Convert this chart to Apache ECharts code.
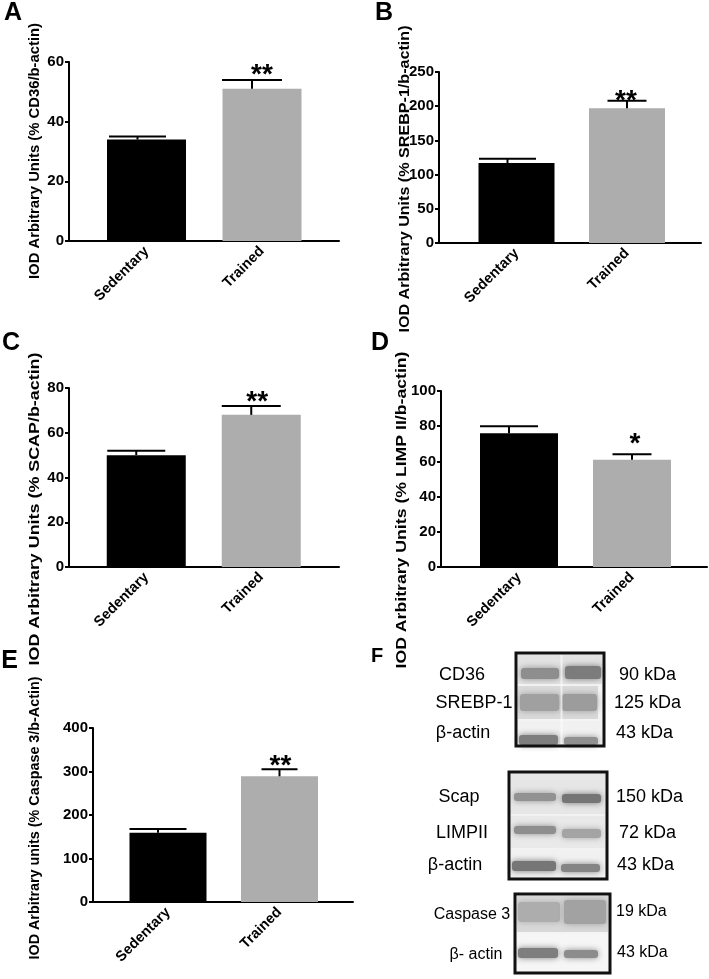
<!DOCTYPE html>
<html><head><meta charset="utf-8">
<script src="https://cdn.jsdelivr.net/npm/echarts@6/dist/echarts.min.js"></script>
<style>html,body{margin:0;padding:0;background:#fff}#c{width:709px;height:979px}</style>
</head><body><div id="c"></div>
<script>
// ---------------- data ----------------
const categories = ['Sedentary', 'Trained'];

const cd36Mean = [34, 51];
const cd36Sem = [1, 3];
const cd36Sig = ['', '**'];
const cd36Ticks = [0, 20, 40, 60];

const srebpMean = [117, 197];
const srebpSem = [6, 11];
const srebpSig = ['', '**'];
const srebpTicks = [0, 50, 100, 150, 200, 250];

const scapMean = [50, 68];
const scapSem = [2, 4];
const scapSig = ['', '**'];
const scapTicks = [0, 20, 40, 60, 80];

const limpMean = [76, 61];
const limpSem = [4, 3];
const limpSig = ['', '*'];
const limpTicks = [0, 20, 40, 60, 80, 100];

const caspMean = [159, 289];
const caspSem = [9, 16];
const caspSig = ['', '**'];
const caspTicks = [0, 100, 200, 300, 400];

const panelLetters = ['A', 'B', 'C', 'D', 'E', 'F'];
const yTitles = [
  'IOD Arbitrary Units (% CD36/b-actin)',
  'IOD Arbitrary Units (% SREBP-1/b-actin)',
  'IOD Arbitrary Units (% SCAP/b-actin)',
  'IOD Arbitrary Units (% LIMP II/b-actin)',
  'IOD Arbitrary units (% Caspase 3/b-Actin)'
];
const blotProteins = ['CD36', 'SREBP-1', 'β-actin', 'Scap', 'LIMPII', 'β-actin', 'Caspase 3', 'β- actin'];
const blotSizes = ['90 kDa', '125 kDa', '43 kDa', '150 kDa', '72 kDa', '43 kDa', '19 kDa', '43 kDa'];

// ---------------- layout / style ----------------
const FONT = '"Liberation Sans", Arial, Helvetica, sans-serif';
const barColors = ['#000000', '#adadad'];

const panels = [
  {mean: cd36Mean, sem: cd36Sem, sig: cd36Sig, ticks: cd36Ticks},
  {mean: srebpMean, sem: srebpSem, sig: srebpSig, ticks: srebpTicks},
  {mean: scapMean, sem: scapSem, sig: scapSig, ticks: scapTicks},
  {mean: limpMean, sem: limpSem, sig: limpSig, ticks: limpTicks},
  {mean: caspMean, sem: caspSem, sig: caspSig, ticks: caspTicks}
];
const layouts = [
  {outer: {left: 69, top: 62, width: 270, height: 179}, inner: {left: 88.75, width: 231}, barWidth: 79,
   capOffset: [-9, -10], capWidth: [57, 60], starGap: 11, starDx: 0,
   title: {cx: 35, cy: 151, len: 256}, letter: {x: 13, y: 13.5}},
  {outer: {left: 439, top: 72, width: 262, height: 171}, inner: {left: 461.25, width: 221}, barWidth: 76,
   capOffset: [-9, 0], capWidth: [57, 39], starGap: 6, starDx: -1,
   title: {cx: 405, cy: 179, len: 307}, letter: {x: 384, y: 13.5}},
  {outer: {left: 69, top: 388, width: 270, height: 179}, inner: {left: 88.75, width: 230}, barWidth: 79,
   capOffset: [-10, -10], capWidth: [58, 59], starGap: 10, starDx: -4,
   title: {cx: 35, cy: 509, len: 313}, letter: {x: 11, y: 343.5}},
  {outer: {left: 441, top: 391, width: 266, height: 176}, inner: {left: 462.5, width: 226}, barWidth: 78,
   capOffset: [-10, 0], capWidth: [58, 39], starGap: 16, starDx: 3,
   title: {cx: 402, cy: 510, len: 317}, letter: {x: 380, y: 343.5}},
  {outer: {left: 93, top: 728, width: 260, height: 174}, inner: {left: 112.25, width: 223}, barWidth: 77,
   capOffset: [-10, 0], capWidth: [57, 36], starGap: 9, starDx: 1,
   title: {cx: 35, cy: 818, len: 283}, letter: {x: 9.5, y: 661.5}}
];

const chart = echarts.init(document.getElementById('c'), null, {renderer: 'canvas'});

const measureCtx = document.createElement('canvas').getContext('2d');
function textWidth(t, font) { measureCtx.font = font; return measureCtx.measureText(t).width; }

const grid = [], xAxis = [], yAxis = [], series = [], graphics = [];

panels.forEach((P, k) => {
  const L = layouts[k];
  const min = P.ticks[0], max = P.ticks[P.ticks.length - 1], interval = P.ticks[1] - P.ticks[0];
  grid.push({left: L.outer.left, top: L.outer.top, width: L.outer.width, height: L.outer.height, containLabel: false});
  const gOuter = grid.length - 1;
  grid.push({left: L.inner.left, top: L.outer.top, width: L.inner.width, height: L.outer.height, containLabel: false});
  const gInner = grid.length - 1;

  xAxis.push({gridIndex: gOuter, type: 'value', min: 0, max: 1,
    axisLine: {show: true, onZero: false, lineStyle: {color: '#000', width: 2}},
    axisTick: {show: false}, axisLabel: {show: false}, splitLine: {show: false}});
  yAxis.push({gridIndex: gOuter, type: 'value', min, max, interval,
    axisLine: {show: true, onZero: false, lineStyle: {color: '#000', width: 2}},
    axisTick: {show: true, length: 4, lineStyle: {color: '#000', width: 2}},
    axisLabel: {color: '#000', fontFamily: FONT, fontWeight: 'bold', fontSize: 15, margin: 5},
    splitLine: {show: false}});

  const xi = xAxis.length;
  xAxis.push({gridIndex: gInner, type: 'category', data: categories, boundaryGap: true,
    axisLine: {show: false}, axisTick: {show: false},
    axisLabel: {rotate: 45, color: '#000', fontFamily: FONT, fontWeight: 'bold', fontSize: 14.5, margin: 8, interval: 0}});
  const yi = yAxis.length;
  yAxis.push({gridIndex: gInner, type: 'value', min, max, interval, show: false});

  series.push({type: 'bar', xAxisIndex: xi, yAxisIndex: yi, barWidth: L.barWidth, silent: true,
    data: P.mean.map((v, i) => ({value: v, itemStyle: {color: barColors[i]}}))});

  series.push({type: 'custom', xAxisIndex: xi, yAxisIndex: yi, silent: true, clip: false, z: 5,
    encode: {x: 0, y: 1},
    data: P.mean.map((v, i) => [i, v, P.sem[i]]),
    renderItem: (params, api) => {
      const i = api.value(0), m = api.value(1), e = api.value(2);
      const base = api.coord([i, m]);
      const top = api.coord([i, m + e]);
      const sx = base[0] + L.capOffset[i];
      const hw = L.capWidth[i] / 2;
      const children = [
        {type: 'line', shape: {x1: sx, y1: base[1], x2: sx, y2: top[1]}, style: {stroke: '#000', lineWidth: 2}},
        {type: 'line', shape: {x1: sx - hw, y1: top[1], x2: sx + hw, y2: top[1]}, style: {stroke: '#000', lineWidth: 2}}
      ];
      const s = P.sig[i];
      if (s) {
        const fs = 28;
        children.push({type: 'text', x: base[0] + L.starDx, y: top[1] - L.starGap + 0.22 * fs,
          style: {text: s, fill: '#000', font: 'bold ' + fs + 'px ' + FONT, align: 'center', verticalAlign: 'middle'}});
      }
      return {type: 'group', children};
    }});

  const tFont = 'bold 15px ' + FONT;
  const w = textWidth(yTitles[k], tFont);
  graphics.push({type: 'text', x: L.title.cx, y: L.title.cy, rotation: Math.PI / 2,
    scaleX: L.title.len / w, scaleY: 1,
    style: {text: yTitles[k], font: tFont, fill: '#000', textAlign: 'center', textVerticalAlign: 'middle', align: 'center', verticalAlign: 'middle'}});
  graphics.push({type: 'text', x: L.letter.x, y: L.letter.y,
    style: {text: panelLetters[k], font: 'bold 25px ' + FONT, fill: '#000', textAlign: 'center', textVerticalAlign: 'middle', align: 'center', verticalAlign: 'middle'}});
});

// ---------------- panel F: western blot images (decorative drawing) ----------------
graphics.push({type: 'text', x: 377, y: 656,
  style: {text: panelLetters[5], font: 'bold 20px ' + FONT, fill: '#000', textAlign: 'center', textVerticalAlign: 'middle', align: 'center', verticalAlign: 'middle'}});

function rect(x1, y1, x2, y2, fill) {
  return {type: 'rect', shape: {x: x1, y: y1, width: x2 - x1, height: y2 - y1}, style: {fill}, silent: true};
}
function band(x1, y1, x2, y2, fill) {
  return {type: 'rect', shape: {x: x1, y: y1, width: x2 - x1, height: y2 - y1, r: 3},
    style: {fill, shadowBlur: 6, shadowColor: fill}, silent: true};
}
function frame(x1, y1, x2, y2) {
  return {type: 'rect', shape: {x: x1, y: y1, width: x2 - x1, height: y2 - y1},
    style: {fill: 'none', stroke: '#111', lineWidth: 3}, silent: true, z: 10};
}
const blot = [
  rect(516, 653, 604, 746, '#f4f4f4'),
  rect(518, 655, 602, 684, '#e2e2e2'),
  band(521, 668, 559, 679, '#8e8e8e'), band(565, 666, 601, 679, '#7c7c7c'),
  rect(518, 686, 598, 719, '#d9d9d9'),
  band(520, 694, 559, 711, '#a0a0a0'), band(562, 694, 597, 711, '#9c9c9c'),
  rect(518, 721, 602, 744, '#f1f1f1'),
  band(519, 735, 558, 745, '#7e7e7e'), band(564, 737, 598, 745, '#909090'),
  rect(560.5, 655, 562.5, 744, 'rgba(255,255,255,0.6)'),
  frame(516, 653, 604, 746),
  rect(509, 772, 607, 879, '#f2f2f2'),
  rect(511, 774, 605, 814, '#e6e6e6'),
  band(514, 793, 556, 801, '#929292'), band(562, 794, 601, 803, '#757575'),
  rect(511, 816, 605, 848, '#e9e9e9'),
  band(514, 826, 556, 834, '#8e8e8e'), band(562, 829, 601, 838, '#a4a4a4'),
  rect(511, 850, 605, 877, '#f1f1f1'),
  band(512, 861, 556, 871, '#767676'), band(561, 864, 600, 872, '#858585'),
  frame(509, 772, 607, 879),
  rect(515, 894, 610, 973, '#f4f4f4'),
  rect(517, 896, 608, 932, '#d8d8d8'),
  band(518, 902, 560, 922, '#adadad'), band(564, 900, 606, 924, '#a2a2a2'),
  rect(517, 934, 608, 971, '#f6f6f6'),
  band(518, 948, 558, 958, '#7e7e7e'), band(564, 950, 598, 958, '#8c8c8c'),
  frame(515, 894, 610, 973)
];
blot.forEach(g => graphics.push(g));

const protPos = [[462, 675], [474, 703], [463, 733], [459, 797], [462, 833], [455, 865], [472, 915], [476, 955]];
const sizePos = [[619, 675], [614, 703], [616, 733], [616, 797], [619, 833], [617, 865], [616, 912], [617, 953]];
blotProteins.forEach((t, i) => {
  const fs = i >= 6 ? 16 : 18;
  graphics.push({type: 'text', x: protPos[i][0], y: protPos[i][1],
    style: {text: t, font: fs + 'px ' + FONT, fill: '#000', textAlign: 'center', textVerticalAlign: 'middle', align: 'center', verticalAlign: 'middle'}});
});
blotSizes.forEach((t, i) => {
  const fs = i >= 6 ? 16 : 18;
  graphics.push({type: 'text', x: sizePos[i][0], y: sizePos[i][1],
    style: {text: t, font: fs + 'px ' + FONT, fill: '#000', textAlign: 'left', textVerticalAlign: 'middle', align: 'left', verticalAlign: 'middle'}});
});

chart.setOption({
  backgroundColor: '#ffffff',
  animation: false,
  grid, xAxis, yAxis, series,
  graphic: {elements: graphics}
});
</script>
</body></html>
